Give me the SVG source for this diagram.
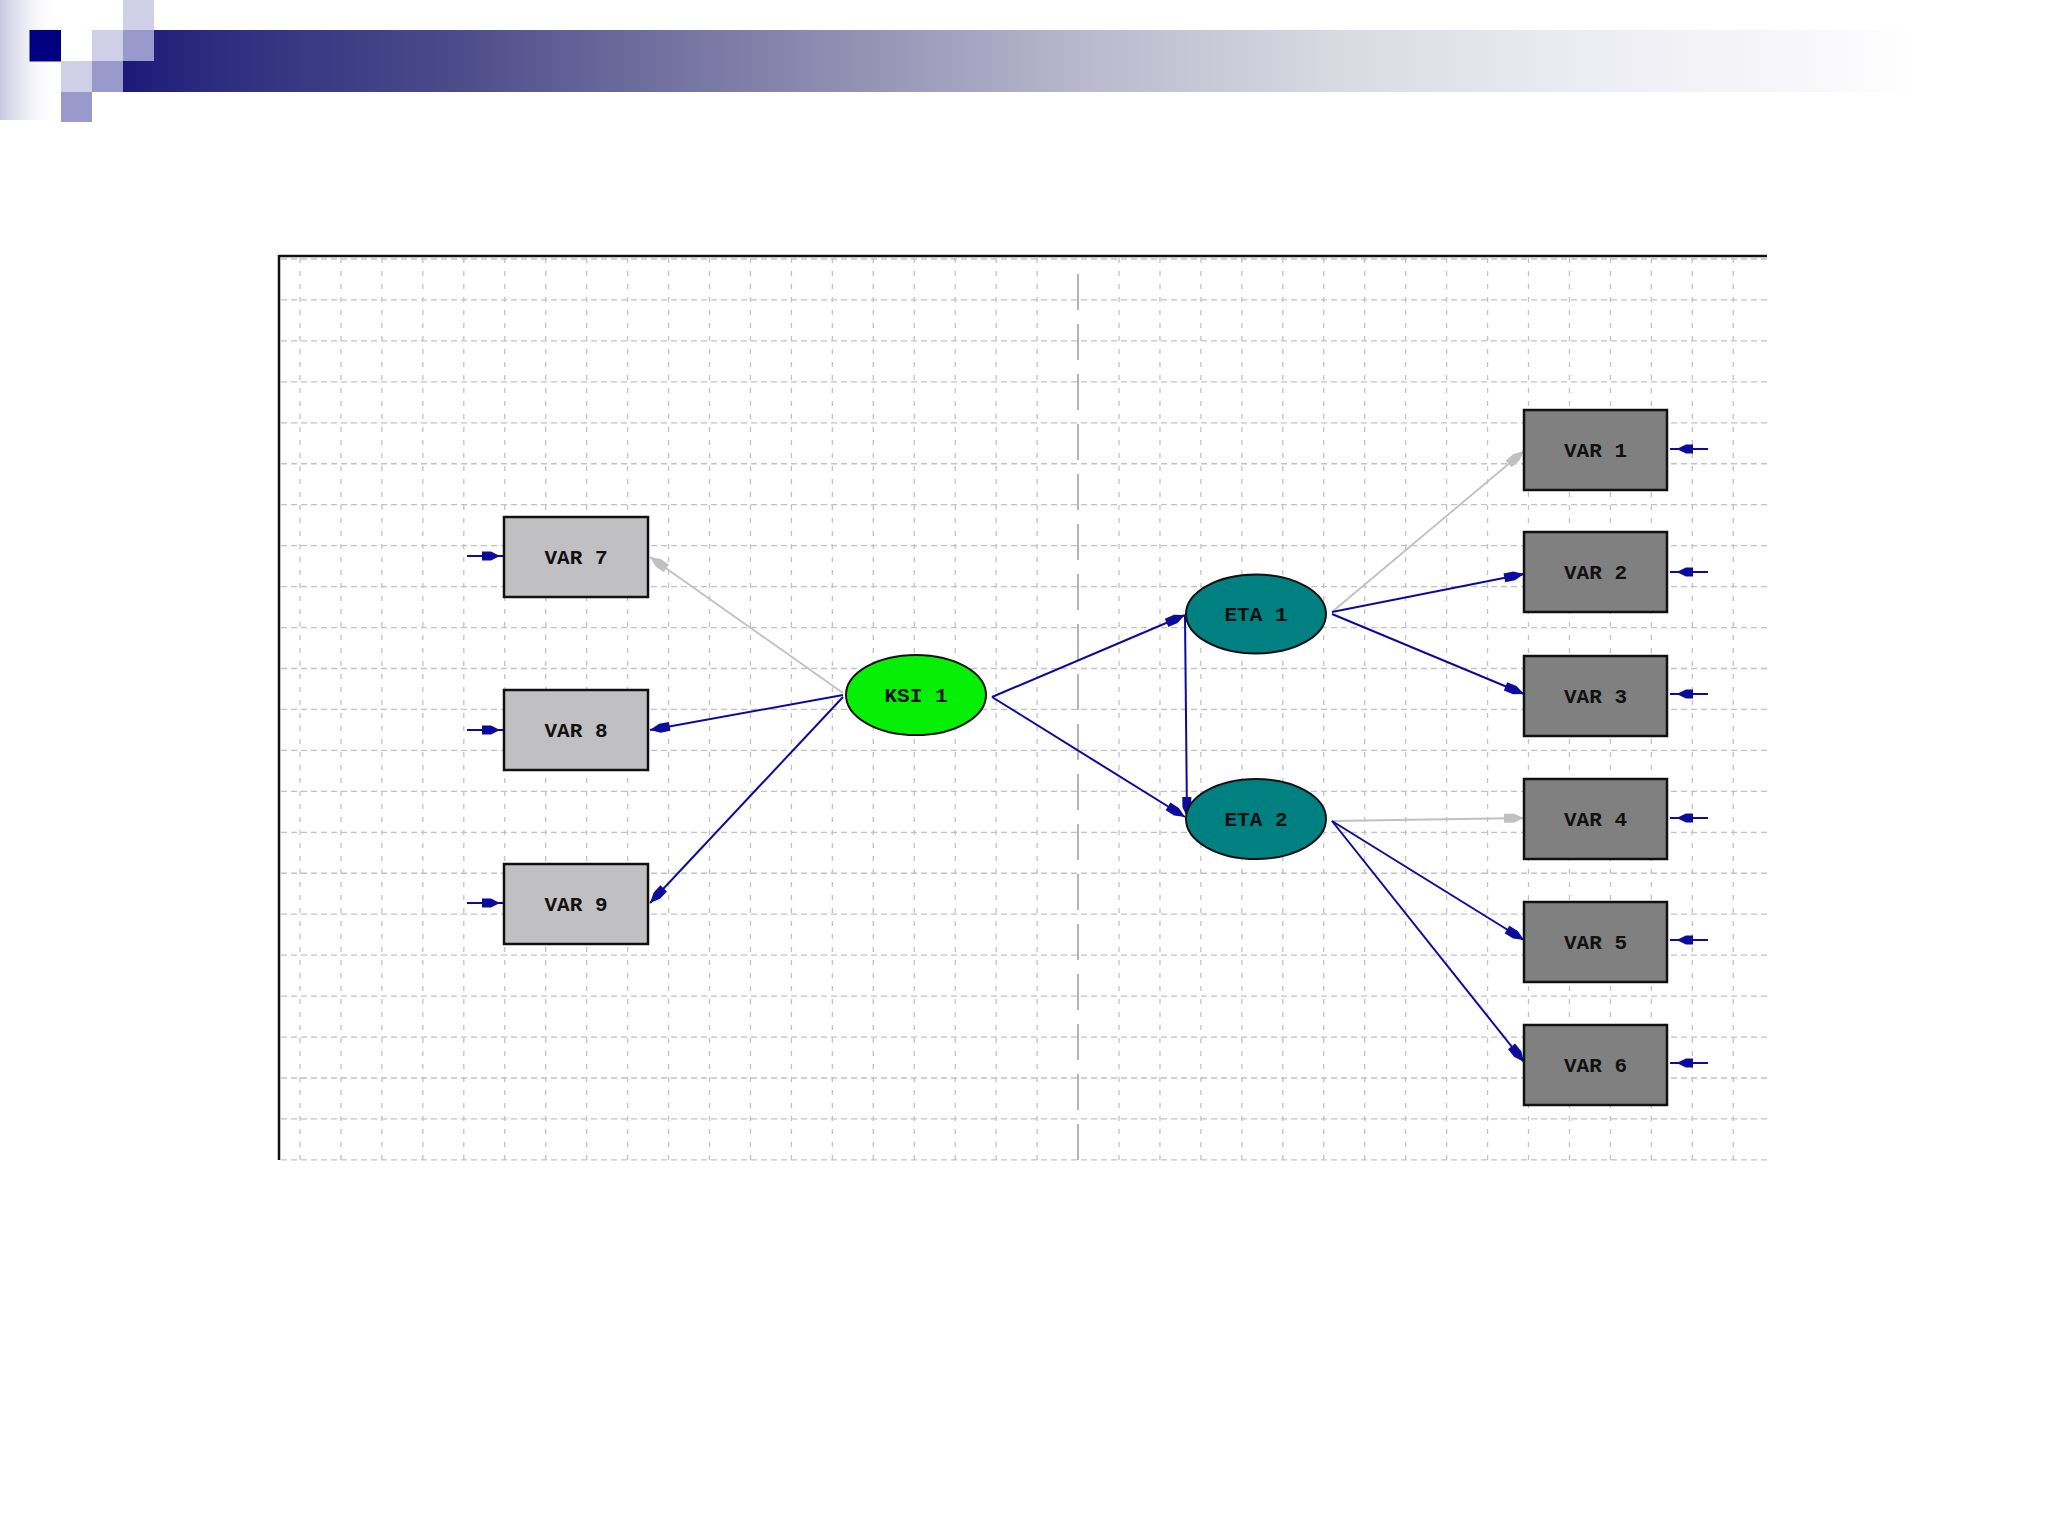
<svg xmlns="http://www.w3.org/2000/svg" xmlns:xlink="http://www.w3.org/1999/xlink" width="2048" height="1536" viewBox="0 0 2048 1536">
<defs>
<style>
.gh{stroke:#c2c2c2;stroke-width:1.3;stroke-dasharray:6 4;fill:none}
.gv{stroke:#c2c2c2;stroke-width:1.3;stroke-dasharray:5 8;fill:none}
.box1{fill:#c0bfc2;stroke:#111;stroke-width:2.5}
.box2{fill:#808080;stroke:#111;stroke-width:2.5}
.lbl{font-family:"Liberation Mono","DejaVu Sans Mono",monospace;font-weight:bold;font-size:21px;fill:#111;text-anchor:middle}
.cb{stroke:#0c0c9c;stroke-width:2;fill:none;marker-end:url(#ab)}
.cg{stroke:#c0c0c0;stroke-width:1.8;fill:none;marker-end:url(#ag)}
.err{stroke:#0c0c9c;stroke-width:2.2;fill:none}
.errh{fill:#0c0c9c}
</style>
<linearGradient id="bar" gradientUnits="userSpaceOnUse" x1="123" y1="0" x2="1920" y2="0">
<stop offset="0" stop-color="#1c1a78"/>
<stop offset="0.055" stop-color="#2e2e80"/>
<stop offset="0.18" stop-color="#4a4a8a"/>
<stop offset="0.305" stop-color="#7472a0"/>
<stop offset="0.545" stop-color="#bcbbcf"/>
<stop offset="0.68" stop-color="#dadae2"/>
<stop offset="0.815" stop-color="#ececf3"/>
<stop offset="0.94" stop-color="#f8f8fb"/>
<stop offset="1" stop-color="#ffffff"/>
</linearGradient>
<linearGradient id="side" x1="0" y1="0" x2="1" y2="0">
<stop offset="0" stop-color="#c6c6e2"/>
<stop offset="1" stop-color="#ffffff" stop-opacity="0"/>
</linearGradient>
<marker id="ab" viewBox="-21 -6 22 12" markerWidth="22" markerHeight="12" refX="0" refY="0" orient="auto" markerUnits="userSpaceOnUse">
<path d="M0,0 L-10,-4.5 L-20,-4.5 L-20,4.5 L-10,4.5 Z" fill="#0c0c9c"/>
</marker>
<marker id="ag" viewBox="-21 -6 22 12" markerWidth="22" markerHeight="12" refX="0" refY="0" orient="auto" markerUnits="userSpaceOnUse">
<path d="M0,0 L-10,-4.5 L-20,-4.5 L-20,4.5 L-10,4.5 Z" fill="#c0c0c0"/>
</marker>
<g id="errL">
<path class="err" d="M-37,0 H0"/>
<path class="errh" d="M-4,0 L-13,-4.5 L-22,-4.5 L-22,4.5 L-13,4.5 Z"/>
</g>
<g id="errR">
<path class="err" d="M3,0 H41"/>
<path class="errh" d="M9.5,0 L19,-4.5 L26,-4.5 L26,4.5 L19,4.5 Z"/>
</g>
</defs>
<rect width="2048" height="1536" fill="#ffffff"/>

<g id="banner">
<rect x="0" y="0" width="60" height="120" fill="url(#side)"/>
<rect x="123" y="30" width="1925" height="62" fill="url(#bar)"/>
<rect x="29.5" y="30" width="31.5" height="31.5" fill="#000080"/>
<rect x="123" y="0" width="31" height="30" fill="#cfcfe8"/>
<rect x="92" y="30" width="31" height="31" fill="#cfcfe8"/>
<rect x="123" y="30" width="31" height="31" fill="#9999cc"/>
<rect x="61" y="61" width="31" height="31" fill="#cfcfe8"/>
<rect x="92" y="61" width="31" height="31" fill="#9999cc"/>
<rect x="61" y="92" width="31" height="30" fill="#9999cc"/>
</g>

<g id="grid">
<path class="gh" d="M281,259 H1767 M281,299.95 H1767 M281,340.9 H1767 M281,381.85 H1767 M281,422.8 H1767 M281,463.75 H1767 M281,504.7 H1767 M281,545.65 H1767 M281,586.6 H1767 M281,627.55 H1767 M281,668.5 H1767 M281,709.45 H1767 M281,750.4 H1767 M281,791.35 H1767 M281,832.3 H1767 M281,873.25 H1767 M281,914.2 H1767 M281,955.15 H1767 M281,996.1 H1767 M281,1037.05 H1767 M281,1078 H1767 M281,1118.95 H1767 M281,1159.9 H1767"/>
<path class="gv" d="M300,258 V1160 M340.95,258 V1160 M381.9,258 V1160 M422.85,258 V1160 M463.8,258 V1160 M504.75,258 V1160 M545.7,258 V1160 M586.65,258 V1160 M627.6,258 V1160 M668.55,258 V1160 M709.5,258 V1160 M750.45,258 V1160 M791.4,258 V1160 M832.35,258 V1160 M873.3,258 V1160 M914.25,258 V1160 M955.2,258 V1160 M996.15,258 V1160 M1037.1,258 V1160 M1119,258 V1160 M1159.95,258 V1160 M1200.9,258 V1160 M1241.85,258 V1160 M1282.8,258 V1160 M1323.75,258 V1160 M1364.7,258 V1160 M1405.65,258 V1160 M1446.6,258 V1160 M1487.55,258 V1160 M1528.5,258 V1160 M1569.45,258 V1160 M1610.4,258 V1160 M1651.35,258 V1160 M1692.3,258 V1160 M1733.25,258 V1160"/>
<path d="M1078,262 V1160" stroke="#b4b4b4" stroke-width="2" stroke-dasharray="36 14" stroke-dashoffset="-12" fill="none"/>
<path d="M279,256 H1767 M279,255 V1160" stroke="#111" stroke-width="2.5" fill="none"/>
</g>

<g id="connectors">
<path class="cg" d="M843,693 L650,557"/>
<path class="cb" d="M843,695 L650,730"/>
<path class="cb" d="M843,697 L650,903"/>
<path class="cb" d="M992,697 L1185,615"/>
<path class="cb" d="M992,697 L1185,817"/>
<path class="cb" d="M1185,616 L1187,817"/>
<path class="cg" d="M1332,612 L1524,451"/>
<path class="cb" d="M1332,612 L1524,574"/>
<path class="cb" d="M1332,614 L1524,694"/>
<path class="cg" d="M1332,821 L1524,818"/>
<path class="cb" d="M1332,821 L1524,940"/>
<path class="cb" d="M1332,821 L1524,1062"/>
<use xlink:href="#errL" x="504" y="556"/>
<use xlink:href="#errL" x="504" y="730"/>
<use xlink:href="#errL" x="504" y="903"/>
<use xlink:href="#errR" x="1667" y="449"/>
<use xlink:href="#errR" x="1667" y="572"/>
<use xlink:href="#errR" x="1667" y="694"/>
<use xlink:href="#errR" x="1667" y="818"/>
<use xlink:href="#errR" x="1667" y="940"/>
<use xlink:href="#errR" x="1667" y="1063"/>
</g>

<g id="VAR7"><rect class="box1" x="504" y="517" width="144" height="80"/><text class="lbl" x="576" y="564">VAR 7</text></g>
<g id="VAR8"><rect class="box1" x="504" y="690" width="144" height="80"/><text class="lbl" x="576" y="737">VAR 8</text></g>
<g id="VAR9"><rect class="box1" x="504" y="864" width="144" height="80"/><text class="lbl" x="576" y="911">VAR 9</text></g>

<g id="KSI1"><ellipse cx="916" cy="695" rx="70" ry="40" fill="#06f006" stroke="#111" stroke-width="2"/><text class="lbl" x="916" y="702">KSI 1</text></g>
<g id="ETA1"><ellipse cx="1256" cy="614" rx="70" ry="39.5" fill="#008080" stroke="#111" stroke-width="2"/><text class="lbl" x="1256" y="621">ETA 1</text></g>
<g id="ETA2"><ellipse cx="1256" cy="819" rx="70" ry="40" fill="#008080" stroke="#111" stroke-width="2"/><text class="lbl" x="1256" y="826">ETA 2</text></g>

<g id="VAR1"><rect class="box2" x="1524" y="410" width="143" height="80"/><text class="lbl" x="1595.5" y="457">VAR 1</text></g>
<g id="VAR2"><rect class="box2" x="1524" y="532" width="143" height="80"/><text class="lbl" x="1595.5" y="579">VAR 2</text></g>
<g id="VAR3"><rect class="box2" x="1524" y="656" width="143" height="80"/><text class="lbl" x="1595.5" y="703">VAR 3</text></g>
<g id="VAR4"><rect class="box2" x="1524" y="779" width="143" height="80"/><text class="lbl" x="1595.5" y="826">VAR 4</text></g>
<g id="VAR5"><rect class="box2" x="1524" y="902" width="143" height="80"/><text class="lbl" x="1595.5" y="949">VAR 5</text></g>
<g id="VAR6"><rect class="box2" x="1524" y="1025" width="143" height="80"/><text class="lbl" x="1595.5" y="1072">VAR 6</text></g>
</svg>
